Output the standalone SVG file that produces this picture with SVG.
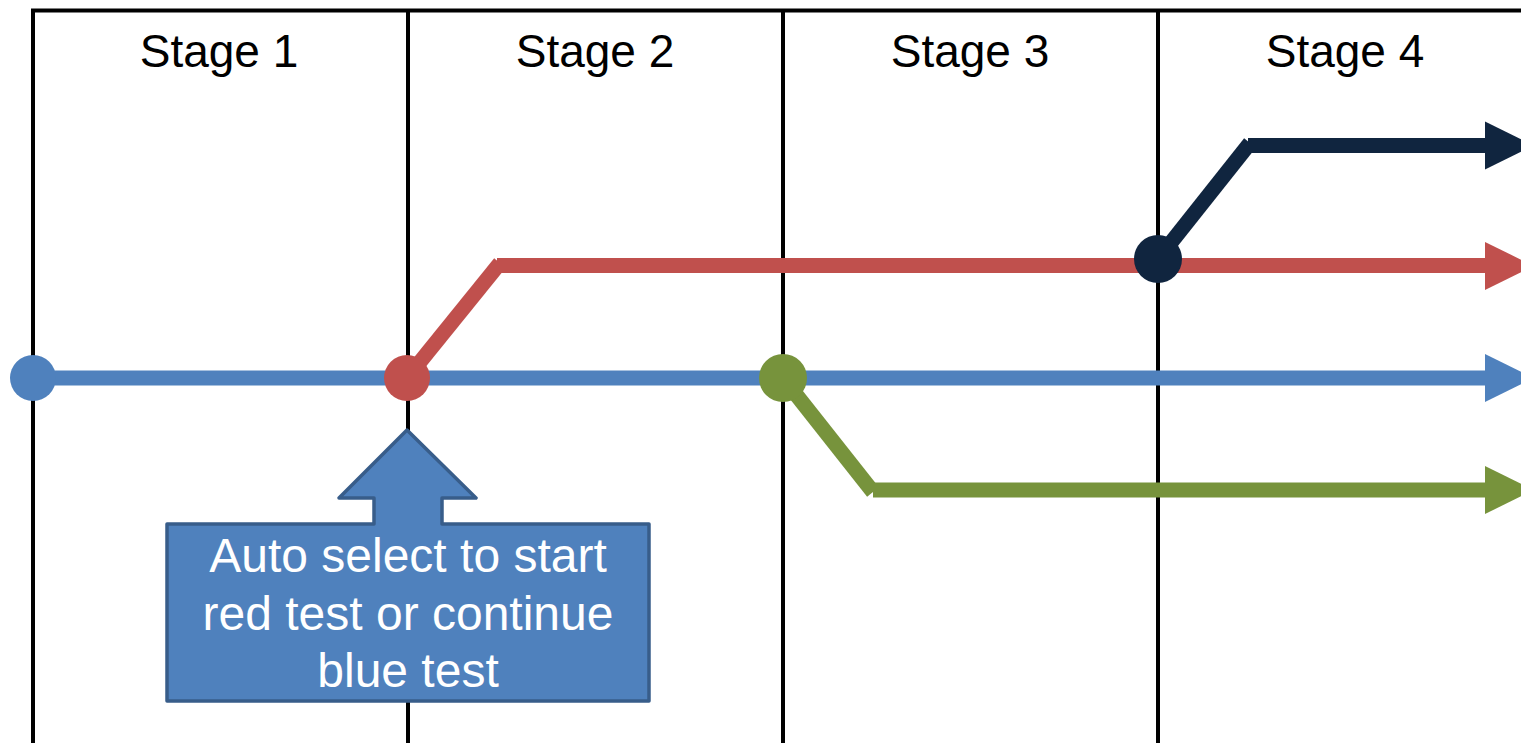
<svg xmlns="http://www.w3.org/2000/svg" xmlns:xlink="http://www.w3.org/1999/xlink" width="1521" height="743" viewBox="0 0 1521 743">
<style>
  .frame { stroke: #000; stroke-width: 4; fill: none; }
  .stage { font-family: "Liberation Sans", Arial, sans-serif; font-size: 46px; fill: #000; text-anchor: middle; }
  .track { fill: none; stroke-width: 15; stroke-linecap: butt; }
  .blue { stroke: #4F81BD; }
  .red { stroke: #C0504D; }
  .green { stroke: #77933C; }
  .navy { stroke: #10253F; }
  .callout-text { font-family: "Liberation Sans", Arial, sans-serif; font-size: 48px; fill: #fff; text-anchor: middle; }
</style>
<defs>
  <path id="head" d="M0,-24 L49,0 L0,24 Z"/>
</defs>
<rect width="1521" height="743" fill="#fff"/>
<g id="frame">
  <line class="frame" x1="31" y1="10.5" x2="1521" y2="10.5"/>
  <line class="frame" x1="33" y1="9" x2="33" y2="743"/>
  <line class="frame" x1="408" y1="9" x2="408" y2="743"/>
  <line class="frame" x1="783" y1="9" x2="783" y2="743"/>
  <line class="frame" x1="1158" y1="9" x2="1158" y2="743"/>
</g>
<g id="stage-labels">
  <text class="stage" x="219" y="67">Stage 1</text>
  <text class="stage" x="595" y="67">Stage 2</text>
  <text class="stage" x="970" y="67">Stage 3</text>
  <text class="stage" x="1345" y="67">Stage 4</text>
</g>
<g id="connectors">
  <line class="track blue" x1="33" y1="378" x2="1487" y2="378"/>
  <use xlink:href="#head" href="#head" x="1485" y="378" fill="#4F81BD"/>
  <line class="track red" x1="407" y1="378" x2="500" y2="263"/>
  <line class="track red" x1="497" y1="265.5" x2="1487" y2="265.5"/>
  <use xlink:href="#head" href="#head" x="1485" y="266" fill="#C0504D"/>
  <line class="track green" x1="783" y1="378" x2="873" y2="492"/>
  <line class="track green" x1="873" y1="490" x2="1487" y2="490"/>
  <use xlink:href="#head" href="#head" x="1485" y="490" fill="#77933C"/>
  <line class="track navy" x1="1158" y1="259" x2="1250" y2="143"/>
  <line class="track navy" x1="1248" y1="145.5" x2="1487" y2="145.5"/>
  <use xlink:href="#head" href="#head" x="1485" y="145.5" fill="#10253F"/>
</g>
<g id="node-blue-start"><circle cx="33" cy="378" r="23" fill="#4F81BD"/></g>
<g id="node-red-branch"><circle cx="407" cy="378" r="23" fill="#C0504D"/></g>
<g id="node-green-branch"><circle cx="783" cy="378" r="24" fill="#77933C"/></g>
<g id="node-navy-branch"><circle cx="1158" cy="259" r="24" fill="#10253F"/></g>
<g id="callout">
  <path d="M167,524 L374,524 L374,498 L339,498 L407,430 L476,498 L442,498 L442,524 L649,524 L649,701 L167,701 Z" fill="#4F81BD" stroke="#385D8A" stroke-width="3.5" stroke-linejoin="round"/>
  <text class="callout-text" x="408" y="572">Auto select to start</text>
  <text class="callout-text" x="408" y="630">red test or continue</text>
  <text class="callout-text" x="408" y="687">blue test</text>
</g>
</svg>
